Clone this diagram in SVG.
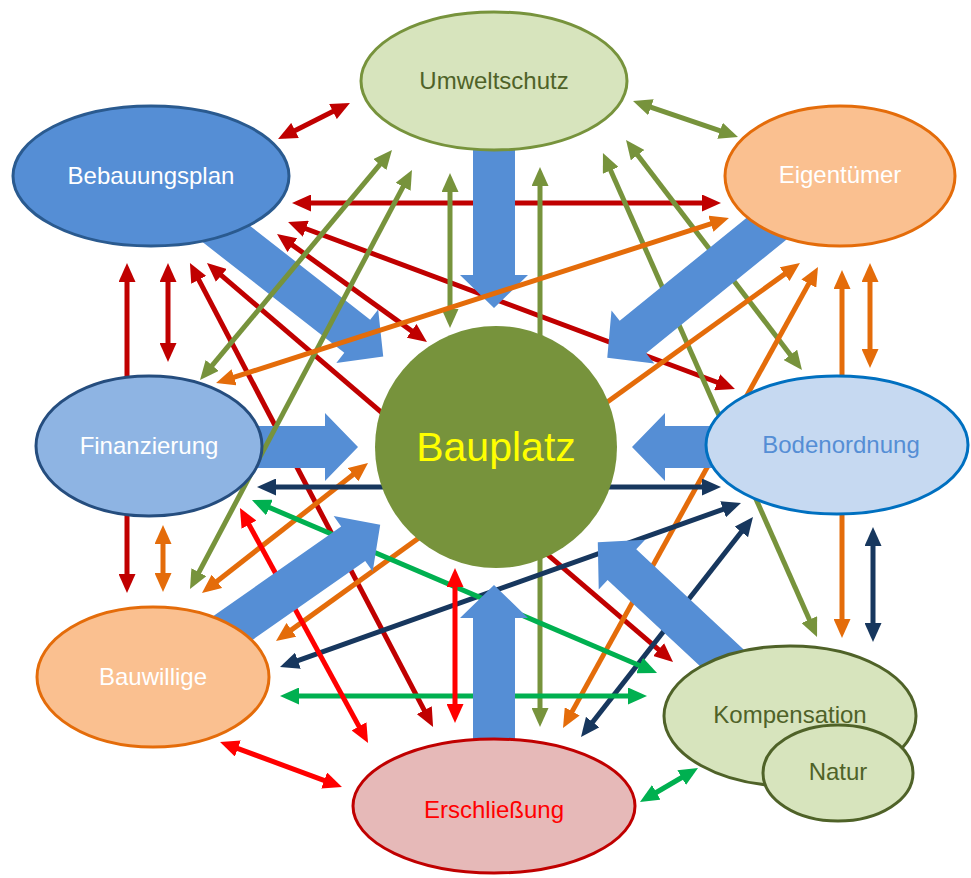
<svg xmlns="http://www.w3.org/2000/svg" width="971" height="878" viewBox="0 0 971 878">
<style>
  .ln { stroke-width: 5; fill: none; stroke-linecap: butt; }
  .dr { stroke: #c00000; marker-start: url(#m-dr); marker-end: url(#m-dr); }
  .rd { stroke: #ff0000; marker-start: url(#m-rd); marker-end: url(#m-rd); }
  .ol { stroke: #77933c; marker-start: url(#m-ol); marker-end: url(#m-ol); }
  .or { stroke: #e46c0a; marker-start: url(#m-or); marker-end: url(#m-or); }
  .nv { stroke: #17375e; marker-start: url(#m-nv); marker-end: url(#m-nv); }
  .gr { stroke: #00b050; marker-start: url(#m-gr); marker-end: url(#m-gr); }
  .flow { fill: #558ed5; }
  .lbl { font-family: "Liberation Sans", Arial, sans-serif; font-size: 24px; text-anchor: middle; }
</style>
<defs>
  <marker id="m-dr" viewBox="0 0 19 17" refX="12" refY="8.5" markerWidth="19" markerHeight="17" markerUnits="userSpaceOnUse" orient="auto-start-reverse"><path d="M0,0 L19,8.5 L0,17 z" fill="#c00000"/></marker>
  <marker id="m-rd" viewBox="0 0 19 17" refX="12" refY="8.5" markerWidth="19" markerHeight="17" markerUnits="userSpaceOnUse" orient="auto-start-reverse"><path d="M0,0 L19,8.5 L0,17 z" fill="#ff0000"/></marker>
  <marker id="m-ol" viewBox="0 0 19 17" refX="12" refY="8.5" markerWidth="19" markerHeight="17" markerUnits="userSpaceOnUse" orient="auto-start-reverse"><path d="M0,0 L19,8.5 L0,17 z" fill="#77933c"/></marker>
  <marker id="m-or" viewBox="0 0 19 17" refX="12" refY="8.5" markerWidth="19" markerHeight="17" markerUnits="userSpaceOnUse" orient="auto-start-reverse"><path d="M0,0 L19,8.5 L0,17 z" fill="#e46c0a"/></marker>
  <marker id="m-nv" viewBox="0 0 19 17" refX="12" refY="8.5" markerWidth="19" markerHeight="17" markerUnits="userSpaceOnUse" orient="auto-start-reverse"><path d="M0,0 L19,8.5 L0,17 z" fill="#17375e"/></marker>
  <marker id="m-gr" viewBox="0 0 19 17" refX="12" refY="8.5" markerWidth="19" markerHeight="17" markerUnits="userSpaceOnUse" orient="auto-start-reverse"><path d="M0,0 L19,8.5 L0,17 z" fill="#00b050"/></marker>
</defs>
<rect width="971" height="878" fill="#ffffff"/>

<g id="connectors">
  <!-- dark red -->
  <line class="ln dr" x1="284.3" y1="135.9" x2="343.7" y2="106.1"/>
  <line class="ln dr" x1="299" y1="203" x2="714" y2="203"/>
  <line class="ln dr" x1="294.6" y1="224.5" x2="728.4" y2="386.5"/>
  <line class="ln dr" x1="282.7" y1="238.1" x2="421.3" y2="337.9"/>
  <line class="ln dr" x1="127" y1="270" x2="127" y2="586"/>
  <line class="ln dr" x1="168" y1="270" x2="168" y2="355"/>
  <line class="ln dr" x1="193.2" y1="269.2" x2="429.8" y2="720.8"/>
  <line class="ln dr" x1="212.3" y1="267.6" x2="667.7" y2="657.4"/>
  <!-- olive -->
  <line class="ln ol" x1="450" y1="180" x2="450" y2="321"/>
  <line class="ln ol" x1="540" y1="174" x2="540" y2="720"/>
  <line class="ln ol" x1="639.6" y1="103.3" x2="731.4" y2="134.7"/>
  <line class="ln ol" x1="630.3" y1="145.6" x2="797.7" y2="364.4"/>
  <line class="ln ol" x1="605.8" y1="159.4" x2="814.2" y2="630.6"/>
  <!-- orange -->
  <line class="ln or" x1="281.7" y1="636.9" x2="794.3" y2="267.1"/>
  <line class="ln or" x1="814.6" y1="273.1" x2="566.4" y2="721.9"/>
  <line class="ln or" x1="842" y1="277" x2="842" y2="631"/>
  <line class="ln or" x1="870" y1="270" x2="870" y2="361"/>
  <line class="ln or" x1="163" y1="532" x2="163" y2="585"/>
  <line class="ln or" x1="207.5" y1="588.7" x2="362.5" y2="467.3"/>
  <!-- navy -->
  <line class="ln nv" x1="264" y1="487" x2="714" y2="487"/>
  <line class="ln nv" x1="286.6" y1="664.7" x2="734.4" y2="505.3"/>
  <line class="ln nv" x1="585.3" y1="731.5" x2="748.7" y2="522.5"/>
  <line class="ln nv" x1="873" y1="534" x2="873" y2="635"/>
  <!-- green -->
  <line class="ln gr" x1="258.4" y1="502.8" x2="650.6" y2="670.2"/>
  <line class="ln gr" x1="287" y1="696" x2="640" y2="696"/>
  <line class="ln gr" x1="646" y1="798.5" x2="692" y2="771.5"/>
  <!-- bright red -->
  <line class="ln rd" x1="455" y1="575" x2="455" y2="716"/>
  <line class="ln rd" x1="243.3" y1="514.1" x2="364.7" y2="736.9"/>
  <line class="ln rd" x1="226.6" y1="744.4" x2="335.4" y2="784.6"/>

  <g id="flows">
    <polygon class="flow" transform="translate(494,140) rotate(90)" points="0,-21 135,-21 135,-34 168,0 135,34 135,21 0,21"/>
    <polygon class="flow" transform="translate(202,215) rotate(38)" points="0,-21 197,-21 197,-34 230,0 197,34 197,21 0,21"/>
    <polygon class="flow" transform="translate(786,213) rotate(141)" points="0,-21 197,-21 197,-34 230,0 197,34 197,21 0,21"/>
    <polygon class="flow" transform="translate(200,447)" points="0,-21 125,-21 125,-34 158,0 125,34 125,21 0,21"/>
    <polygon class="flow" transform="translate(780,447) rotate(180)" points="0,-21 115,-21 115,-34 148,0 115,34 115,21 0,21"/>
    <polygon class="flow" transform="translate(200,651) rotate(-35)" points="0,-21 187,-21 187,-34 220,0 187,34 187,21 0,21"/>
    <polygon class="flow" transform="translate(494,760) rotate(-90)" points="0,-21 142,-21 142,-34 175,0 142,34 142,21 0,21"/>
    <polygon class="flow" transform="translate(766,699) rotate(-137)" points="0,-21 197,-21 197,-34 230,0 197,34 197,21 0,21"/>
  </g>

  <!-- lines drawn over the flow arrows -->
  <line class="ln ol" x1="387.5" y1="155.4" x2="204.5" y2="374.6"/>
  <line class="ln ol" x1="408.7" y1="176.2" x2="193.3" y2="582.8"/>
  <line class="ln or" x1="222.7" y1="380.9" x2="722.3" y2="220.1"/>
</g>

<g id="nodes">
  <g id="umweltschutz">
    <ellipse cx="494" cy="81" rx="133" ry="69" fill="#d7e4bd" stroke="#77933c" stroke-width="3"/>
    <text class="lbl" x="494" y="89" fill="#4f6228">Umweltschutz</text>
  </g>
  <g id="bebauungsplan">
    <ellipse cx="151" cy="176" rx="138" ry="70" fill="#558ed5" stroke="#2a5a8f" stroke-width="3"/>
    <text class="lbl" x="151" y="184" fill="#ffffff">Bebauungsplan</text>
  </g>
  <g id="eigentuemer">
    <ellipse cx="840" cy="176" rx="115" ry="70" fill="#fac090" stroke="#e46c0a" stroke-width="3"/>
    <text class="lbl" x="840" y="183" fill="#ffffff">Eigentümer</text>
  </g>
  <g id="finanzierung">
    <ellipse cx="149" cy="446" rx="113" ry="70" fill="#8eb4e3" stroke="#254d7e" stroke-width="3"/>
    <text class="lbl" x="149" y="454" fill="#ffffff">Finanzierung</text>
  </g>
  <g id="bodenordnung">
    <ellipse cx="837" cy="445" rx="131" ry="69" fill="#c6d9f1" stroke="#0070c0" stroke-width="3"/>
    <text class="lbl" x="841" y="453" fill="#558ed5">Bodenordnung</text>
  </g>
  <g id="bauwillige">
    <ellipse cx="153" cy="677" rx="116" ry="70" fill="#fac090" stroke="#e46c0a" stroke-width="3"/>
    <text class="lbl" x="153" y="685" fill="#ffffff">Bauwillige</text>
  </g>
  <g id="erschliessung">
    <ellipse cx="494" cy="806" rx="141" ry="67" fill="#e6b9b8" stroke="#c00000" stroke-width="3"/>
    <text class="lbl" x="494" y="818" fill="#ff0000">Erschließung</text>
  </g>
  <g id="kompensation">
    <ellipse cx="790" cy="716" rx="126" ry="70" fill="#d7e4bd" stroke="#4f6228" stroke-width="3"/>
    <text class="lbl" x="790" y="723" fill="#4f6228">Kompensation</text>
  </g>
  <g id="natur">
    <ellipse cx="838" cy="773" rx="75" ry="48" fill="#d7e4bd" stroke="#4f6228" stroke-width="3"/>
    <text class="lbl" x="838" y="780" fill="#4f6228">Natur</text>
  </g>
  <g id="bauplatz">
    <circle cx="496" cy="447" r="121" fill="#77933c"/>
    <text x="496" y="461" font-family="Liberation Sans, Arial, sans-serif" font-size="41" text-anchor="middle" fill="#ffff00">Bauplatz</text>
  </g>
</g>
</svg>
